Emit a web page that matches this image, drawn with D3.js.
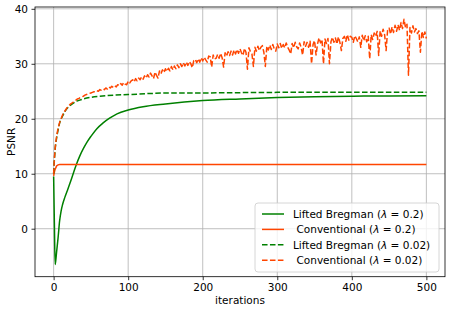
<!DOCTYPE html>
<html><head><meta charset="utf-8">
<script src="https://cdn.jsdelivr.net/npm/d3@7"></script>
<style>html,body{margin:0;padding:0;background:#fff;}svg{display:block;font-family:"DejaVu Sans",sans-serif;}</style>
</head><body>
<script>
// ---------- data ----------
const xTicks = [0, 100, 200, 300, 400, 500];
const yTicks = [0, 10, 20, 30, 40];

// Lifted Bregman (lambda = 0.2), solid green
const lb02Iters = [0, 1, 2, 3, 4, 6, 8, 10, 12, 15, 18, 22, 26, 30, 35, 40, 45, 50, 58, 66, 75, 85, 100, 120, 150, 200, 250, 300, 350, 400, 450, 500];
const lb02Vals  = [9.5, 1.0, -6.5, -5.6, -4.2, -1.6, 1.4, 3.2, 4.4, 5.7, 6.8, 8.3, 9.9, 11.5, 13.2, 14.6, 15.8, 16.8, 18.2, 19.2, 20.1, 20.9, 21.6, 22.2, 22.7, 23.3, 23.6, 23.85, 24.0, 24.1, 24.15, 24.2];

// Conventional (lambda = 0.2), solid orange
const cv02Iters = [0, 1, 2, 3, 4, 6, 8, 12, 500];
const cv02Vals  = [9.6, 10.3, 10.8, 11.1, 11.4, 11.6, 11.7, 11.7, 11.7];

// Lifted Bregman (lambda = 0.02), dashed green
const lb002Iters = [0, 1, 2, 4, 6, 8, 12, 17, 24, 31, 40, 50, 62, 80, 100, 130, 160, 200, 300, 400, 500];
const lb002Vals  = [10.0, 12.5, 14.4, 16.5, 18.0, 19.2, 20.5, 21.7, 22.6, 23.2, 23.6, 23.9, 24.1, 24.3, 24.4, 24.6, 24.7, 24.7, 24.8, 24.8, 24.8];

// Conventional (lambda = 0.02), dashed orange (noisy)
const cv002EarlyIters = [0, 1, 2, 3, 4, 6, 8, 10, 12, 14, 16, 18, 20, 22, 24, 26, 28];
const cv002EarlyVals  = [10.0, 12.8, 14.6, 15.8, 16.8, 18.3, 19.3, 20.0, 20.7, 21.2, 21.6, 22.0, 22.3, 22.6, 22.8, 23.0, 23.2];
// values every 2 iterations, from 30 to 500
const cv002Vals = [
  23.4, 23.6, 23.7, 23.9, 24.0, 24.1, 24.3, 24.4, 24.5, 24.6,
  24.7, 24.8, 24.9, 24.9, 25.1, 25.0, 25.3, 25.2, 25.4, 25.3,
  25.6, 25.4, 25.8, 25.6, 25.9, 25.7, 26.0, 25.8, 26.2, 26.0,
  26.4, 26.1, 26.6, 26.3, 26.2, 26.8, 26.5, 26.9, 27.1, 26.7,
  27.3, 26.9, 27.4, 27.1, 27.6, 27.2, 27.8, 27.4, 28.0, 27.6,
  28.3, 27.8, 27.3, 28.5, 27.9, 27.4, 28.7, 28.2, 28.9, 28.4,
  29.1, 28.6, 29.2, 28.7, 29.5, 28.9, 29.6, 29.1, 29.8, 29.3,
  30.0, 29.5, 30.2, 29.6, 30.3, 29.7, 30.4, 30.0, 29.3, 30.6,
  30.8, 30.2, 30.9, 30.3, 31.1, 30.5, 31.2, 30.7, 30.3, 31.4,
  31.3, 29.4, 31.6, 30.9, 31.0, 31.7, 31.0, 31.9, 31.1, 29.4,
  32.0, 31.4, 32.2, 31.5, 32.3, 31.6, 32.5, 31.8, 32.6, 31.9,
  32.7, 32.0, 31.5, 32.8, 32.1, 29.0, 32.9, 32.2, 31.8, 29.5,
  33.0, 32.3, 33.2, 32.4, 33.0, 33.3, 32.1, 29.5, 33.2, 32.5,
  33.4, 32.6, 33.5, 32.7, 32.3, 33.6, 32.9, 33.7, 32.8, 33.5,
  32.9, 33.8, 33.0, 32.5, 31.8, 33.7, 32.9, 33.9, 33.1, 32.7,
  33.8, 33.0, 31.6, 34.0, 33.2, 33.9, 33.0, 34.1, 30.0, 33.5,
  34.2, 31.6, 33.6, 34.7, 33.8, 34.4, 30.0, 34.5, 33.7, 34.6,
  30.0, 34.0, 34.8, 33.9, 34.7, 33.6, 34.9, 33.9, 32.4, 34.6,
  35.0, 34.1, 35.3, 34.3, 35.0, 34.8, 33.9, 35.1, 34.6, 34.0,
  34.9, 33.0, 35.2, 34.2, 35.1, 34.0, 35.0, 30.9, 35.3, 34.4,
  35.6, 35.0, 35.9, 31.5, 36.0, 35.0, 36.3, 35.3, 32.4, 36.1,
  36.5, 35.4, 36.7, 35.7, 37.0, 35.9, 37.1, 36.1, 37.5, 36.4,
  38.1, 36.6, 37.2, 27.9, 36.6, 35.6, 36.9, 35.8, 36.4, 35.5,
  36.0, 32.1, 35.9, 34.8, 35.8, 34.6
];
const cv002LateIters = d3.range(30, 501, 2);

const labels = [
  {name: "Lifted Bregman (", lam: "0.2", color: "#008000", dash: null, indent: 0},
  {name: "Conventional (", lam: "0.2", color: "#ff4500", dash: null, indent: 3.5},
  {name: "Lifted Bregman (", lam: "0.02", color: "#008000", dash: "5.55,2.4", indent: 0},
  {name: "Conventional (", lam: "0.02", color: "#ff4500", dash: "5.55,2.4", indent: 3.5}
];

// ---------- chart ----------
const W = 449, H = 310;
const L = 35, R = 445, T = 7, B = 276.7;
const FS = 10.5;

const svg = d3.select("body").append("svg").attr("width", W).attr("height", H);

const x = d3.scaleLinear().domain([-25, 525]).range([L, R]);
const y = d3.scaleLinear().domain([-8.73, 40.33]).range([B, T]);

// grid
const grid = svg.append("g");
grid.selectAll("line.gx").data(xTicks).join("line")
  .attr("x1", d => x(d)).attr("x2", d => x(d)).attr("y1", T).attr("y2", B)
  .attr("stroke", "#b0b0b0").attr("stroke-width", 0.8);
grid.selectAll("line.gy").data(yTicks).join("line")
  .attr("y1", d => y(d)).attr("y2", d => y(d)).attr("x1", L).attr("x2", R)
  .attr("stroke", "#b0b0b0").attr("stroke-width", 0.8);

svg.append("clipPath").attr("id", "clip").append("rect")
  .attr("x", L).attr("y", T).attr("width", R - L).attr("height", B - T);

const plot = svg.append("g").attr("clip-path", "url(#clip)");

function series(iters, vals) { return iters.map((it, i) => [it, vals[i]]); }

const smooth = d3.line().x(d => x(d[0])).y(d => y(d[1])).curve(d3.curveMonotoneX);
const straight = d3.line().x(d => x(d[0])).y(d => y(d[1]));

plot.append("path").attr("d", smooth(series(lb02Iters, lb02Vals)))
  .attr("fill", "none").attr("stroke", "#008000").attr("stroke-width", 1.5);
plot.append("path").attr("d", smooth(series(cv02Iters, cv02Vals)))
  .attr("fill", "none").attr("stroke", "#ff4500").attr("stroke-width", 1.5);
plot.append("path").attr("d", smooth(series(lb002Iters, lb002Vals)))
  .attr("fill", "none").attr("stroke", "#008000").attr("stroke-width", 1.5)
  .attr("stroke-dasharray", "5.55,2.4");
const cvAll = series(cv002EarlyIters, cv002EarlyVals).concat(series(cv002LateIters, cv002Vals));
plot.append("path").attr("d", straight(cvAll))
  .attr("fill", "none").attr("stroke", "#ff4500").attr("stroke-width", 1.5)
  .attr("stroke-dasharray", "5.55,2.4").attr("stroke-linejoin", "round");

// axes
const xAxis = d3.axisBottom(x).tickValues(xTicks).tickSize(3.5).tickPadding(3.5);
const yAxis = d3.axisLeft(y).tickValues(yTicks).tickSize(3.5).tickPadding(3.5);
const gx = svg.append("g").attr("transform", `translate(0,${B})`).call(xAxis);
const gy = svg.append("g").attr("transform", `translate(${L},0)`).call(yAxis);
[gx, gy].forEach(g => {
  g.select(".domain").remove();
  g.selectAll("text").attr("font-size", FS).attr("font-family", "DejaVu Sans").attr("fill", "#000");
  g.selectAll("line").attr("stroke", "#000").attr("stroke-width", 0.8);
});

// spines
svg.append("rect").attr("x", L).attr("y", T).attr("width", R - L).attr("height", B - T)
  .attr("fill", "none").attr("stroke", "#000").attr("stroke-width", 0.8);

// axis labels
svg.append("text").attr("x", (L + R) / 2).attr("y", 303.5).attr("text-anchor", "middle")
  .attr("font-size", FS).text("iterations");
svg.append("text").attr("transform", `translate(15,${(T + B) / 2}) rotate(-90)`)
  .attr("text-anchor", "middle").attr("font-size", FS).text("PSNR");

// legend
const lg = svg.append("g");
lg.append("rect").attr("x", 255).attr("y", 203).attr("width", 184).attr("height", 69)
  .attr("rx", 3).attr("fill", "#fff").attr("fill-opacity", 0.8)
  .attr("stroke", "#cccccc").attr("stroke-width", 0.8);
labels.forEach((d, i) => {
  const cy = 214 + i * 15.4;
  lg.append("line").attr("x1", 262).attr("x2", 284).attr("y1", cy).attr("y2", cy)
    .attr("stroke", d.color).attr("stroke-width", 1.5)
    .attr("stroke-dasharray", d.dash);
  const t = lg.append("text").attr("x", 293 + d.indent).attr("y", cy + 3.8).attr("font-size", FS);
  t.append("tspan").text(d.name);
  t.append("tspan").attr("font-style", "italic").text("λ");
  t.append("tspan").text(" = " + d.lam + ")");
});
</script>
</body></html>
